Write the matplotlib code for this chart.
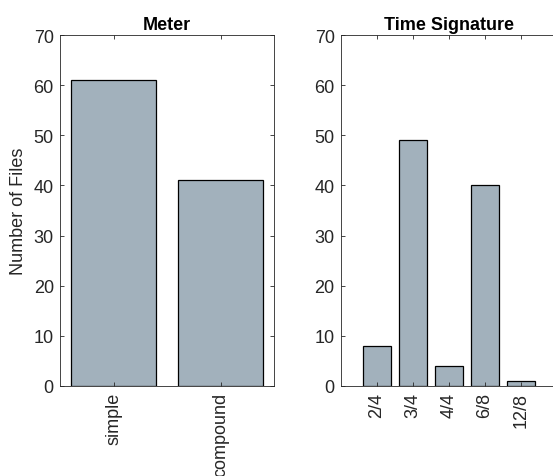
import matplotlib.pyplot as plt
import numpy as np

plt.rcParams['font.family'] = ['Liberation Sans', 'DejaVu Sans']

meter_labels = ['simple', 'compound']
meter_counts = [61, 41]

sig_labels = ['2/4', '3/4', '4/4', '6/8', '12/8']
sig_counts = [8, 49, 4, 40, 1]

bar_color = '#a2b1bc'
axis_color = '#262626'

fig = plt.figure(figsize=(5.53, 4.77), dpi=100)
ax1 = fig.add_axes([0.1085, 0.1887, 0.387, 0.7358])
ax2 = fig.add_axes([0.6166, 0.1887, 0.3906, 0.7358])


def style(ax, labels, counts, xmin, xmax, title):
    x = np.arange(1, len(counts) + 1)
    ax.bar(x, counts, width=0.8, color=bar_color, edgecolor='black', linewidth=0.9)
    ax.set_xlim(xmin, xmax)
    ax.set_ylim(0, 70)
    ax.set_yticks(np.arange(0, 71, 10))
    ax.set_xticks(x)
    ax.set_xticklabels(labels, rotation=90)
    ax.tick_params(direction='in', top=True, right=True, length=3, width=0.6,
                   labelsize=13, colors=axis_color, labelcolor=axis_color, pad=4.5)
    for s in ax.spines.values():
        s.set_color(axis_color)
        s.set_linewidth(0.6)
    ax.set_title(title, fontsize=13, fontweight='bold', pad=4)


style(ax1, meter_labels, meter_counts, 0.5, 2.5, 'Meter')
style(ax2, sig_labels, sig_counts, 0, 6, 'Time Signature')
ax1.set_ylabel('Number of Files', fontsize=13, color=axis_color, labelpad=5)

fig.savefig('out.png', dpi=100)
